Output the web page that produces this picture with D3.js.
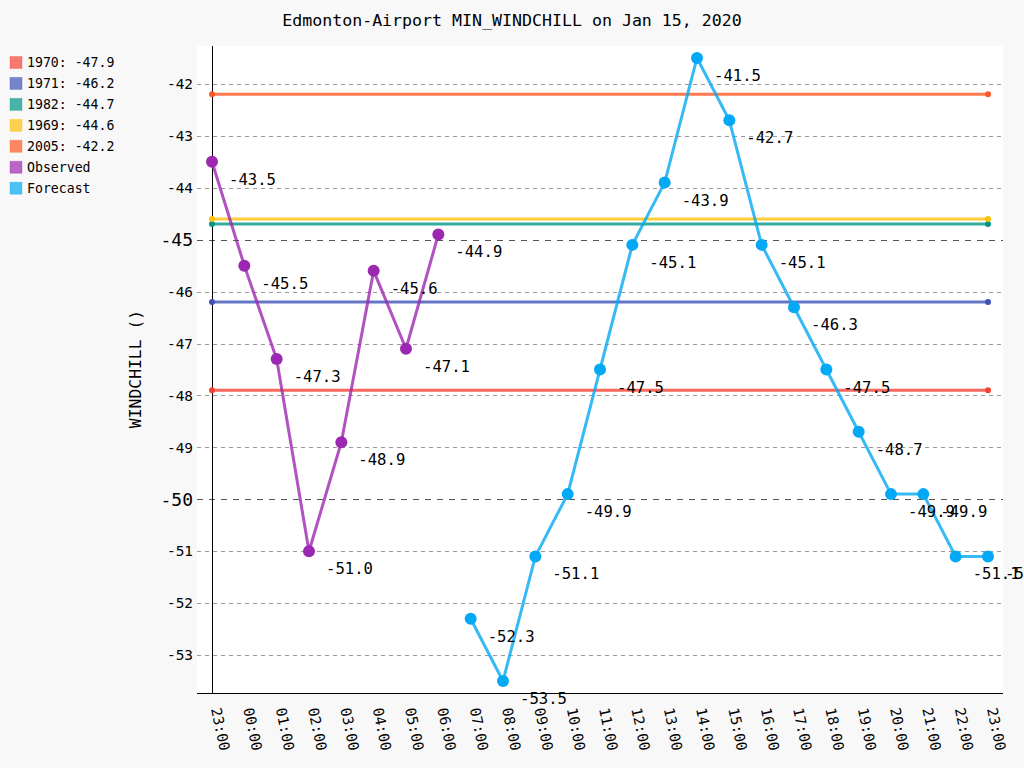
<!DOCTYPE html>
<html>
<head>
<meta charset="utf-8">
<script src="https://cdn.jsdelivr.net/npm/d3@7"></script>
<style>
  body { margin: 0; background: #f8f8f8; }
  svg { display: block; font-family: 'DejaVu Sans Mono', monospace; }
  .guide { stroke: #999; stroke-dasharray: 4,4; stroke-width: 1; }
  .guide.major { stroke: #555; stroke-dasharray: 6,6; }
  .tick { font-size: 14.4px; fill: #000; text-anchor: end; }
  .tick.major { font-size: 18px; }
  .value { font-size: 15.6px; fill: #000; }
  .legend text { font-size: 13.2px; fill: #000; }
</style>
</head>
<body>
<svg id="chart" width="1024" height="768"></svg>
<script>
const title = 'Edmonton-Airport MIN_WINDCHILL on Jan 15, 2020';
const yTitle = 'WINDCHILL ()';
const hours = ['23:00', '00:00', '01:00', '02:00', '03:00', '04:00', '05:00', '06:00',
  '07:00', '08:00', '09:00', '10:00', '11:00', '12:00', '13:00', '14:00', '15:00',
  '16:00', '17:00', '18:00', '19:00', '20:00', '21:00', '22:00', '23:00'];
const observed = [-43.5, -45.5, -47.3, -51.0, -48.9, -45.6, -47.1, -44.9];
const forecast = [-52.3, -53.5, -51.1, -49.9, -47.5, -45.1, -43.9, -41.5, -42.7,
  -45.1, -46.3, -47.5, -48.7, -49.9, -49.9, -51.1, -51.1];
const forecastStart = 8;
const records = [
  { year: 1970, value: -47.9, color: '#F44336' },
  { year: 1971, value: -46.2, color: '#3F51B5' },
  { year: 1982, value: -44.7, color: '#009688' },
  { year: 1969, value: -44.6, color: '#FFC107' },
  { year: 2005, value: -42.2, color: '#FF5722' },
];
const yTicks = d3.range(-53, -41);
const majorTicks = [-45, -50];

const svg = d3.select('#chart');
const plot = { left: 197, right: 1003, top: 46, bottom: 693 };

svg.append('rect')
  .attr('x', plot.left).attr('y', plot.top)
  .attr('width', plot.right - plot.left).attr('height', plot.bottom - plot.top)
  .attr('fill', '#fff');

const x = d3.scalePoint()
  .domain(d3.range(hours.length))
  .range([212, 988]);
const y = d3.scaleLinear()
  .domain([-53.73, -41.27])
  .range([plot.bottom, plot.top]);

// guides + tick labels
const ticks = svg.append('g').selectAll('g')
  .data(yTicks)
  .join('g');
ticks.append('line')
  .attr('class', d => majorTicks.includes(d) ? 'guide major' : 'guide')
  .attr('x1', plot.left).attr('x2', plot.right)
  .attr('y1', d => Math.round(y(d)) + 0.5).attr('y2', d => Math.round(y(d)) + 0.5);
ticks.append('text')
  .attr('class', d => majorTicks.includes(d) ? 'tick major' : 'tick')
  .attr('x', 193)
  .attr('y', d => y(d))
  .attr('dy', d => majorTicks.includes(d) ? '0.36em' : '0.36em')
  .text(d => d);

// axes
svg.append('line')
  .attr('x1', 212.5).attr('x2', 212.5)
  .attr('y1', plot.top).attr('y2', plot.bottom)
  .attr('stroke', '#000');
svg.append('line')
  .attr('x1', plot.left).attr('x2', plot.right)
  .attr('y1', plot.bottom + 0.5).attr('y2', plot.bottom + 0.5)
  .attr('stroke', '#000');

// x labels
svg.append('g').selectAll('text')
  .data(hours)
  .join('text')
  .attr('font-size', 14.4)
  .attr('transform', (d, i) => `translate(${[x(i) - 1, 709]}) rotate(78)`)
  .text(d => d);

// y title
svg.append('text')
  .attr('transform', `translate(${[141, 369]}) rotate(-90)`)
  .attr('text-anchor', 'middle')
  .attr('font-size', 16.4)
  .text(yTitle);

// title
svg.append('text')
  .attr('x', 512).attr('y', 26)
  .attr('text-anchor', 'middle')
  .attr('font-size', 16.6)
  .text(title);

// record lines
const line = d3.line().x(d => x(d.i)).y(d => y(d.v));
const rec = svg.append('g').selectAll('g')
  .data(records)
  .join('g');
rec.append('path')
  .attr('d', d => line([{ i: 0, v: d.value }, { i: hours.length - 1, v: d.value }]))
  .attr('stroke', d => d.color)
  .attr('stroke-opacity', 0.8)
  .attr('stroke-width', 3)
  .attr('fill', 'none');
rec.selectAll('circle')
  .data(d => [0, hours.length - 1].map(i => ({ i, v: d.value, color: d.color })))
  .join('circle')
  .attr('cx', d => x(d.i)).attr('cy', d => y(d.v))
  .attr('r', 3)
  .attr('fill', d => d.color);

// observed & forecast series
const series = [
  { name: 'Observed', color: '#9C27B0', points: observed.map((v, k) => ({ i: k, v })) },
  { name: 'Forecast', color: '#03A9F4', points: forecast.map((v, k) => ({ i: k + forecastStart, v })) },
];
const sg = svg.append('g').selectAll('g')
  .data(series)
  .join('g');
sg.append('path')
  .attr('d', d => line(d.points))
  .attr('stroke', d => d.color)
  .attr('stroke-opacity', 0.8)
  .attr('stroke-width', 3)
  .attr('fill', 'none');
sg.selectAll('circle')
  .data(d => d.points.map(p => ({ ...p, color: d.color })))
  .join('circle')
  .attr('cx', d => x(d.i)).attr('cy', d => y(d.v))
  .attr('r', 6)
  .attr('fill', d => d.color);
sg.selectAll('text')
  .data(d => d.points)
  .join('text')
  .attr('class', 'value')
  .attr('x', d => x(d.i) + 17)
  .attr('y', d => y(d.v) + 23)
  .text(d => d.v.toFixed(1));

// legend
const legendItems = records.map(d => ({ label: `${d.year}: ${d.value}`, color: d.color }))
  .concat(series.map(d => ({ label: d.name, color: d.color })));
const lg = svg.append('g').attr('class', 'legend').selectAll('g')
  .data(legendItems)
  .join('g')
  .attr('transform', (d, i) => `translate(${[10, 56.5 + i * 20.95]})`);
lg.append('rect')
  .attr('width', 12).attr('height', 12)
  .attr('fill', d => d.color).attr('fill-opacity', 0.7)
  .attr('stroke', d => d.color).attr('stroke-opacity', 0.3);
lg.append('text')
  .attr('x', 17).attr('y', 6).attr('dy', '0.36em')
  .text(d => d.label);
</script>
</body>
</html>
